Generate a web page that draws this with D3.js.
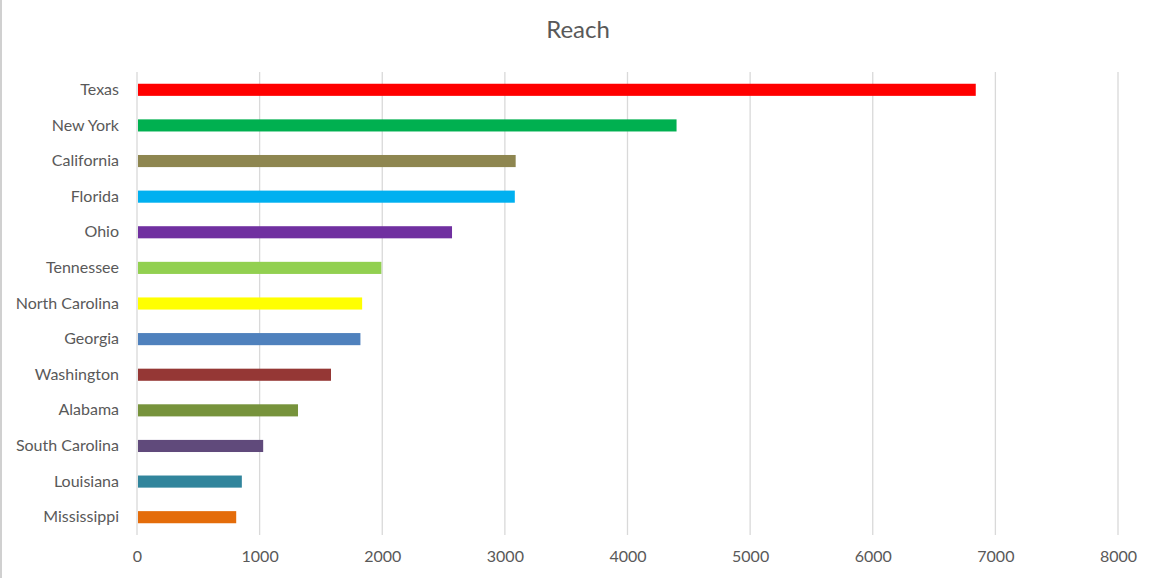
<!DOCTYPE html>
<html>
<head>
<meta charset="utf-8">
<script src="https://cdn.jsdelivr.net/npm/d3@7"></script>
<style>
  body { margin: 0; background: #fff; }
  text { font-family: Lato, "Open Sans", sans-serif; fill: #595959; }
</style>
</head>
<body>
<svg id="drawspace" width="1152" height="578"></svg>
<script>
// data
let states = ["Texas", "New York", "California", "Florida", "Ohio", "Tennessee",
  "North Carolina", "Georgia", "Washington", "Alabama", "South Carolina", "Louisiana", "Mississippi"];
let reach = [6840, 4400, 3088, 3081, 2569, 1993, 1836, 1822, 1582, 1313, 1029, 855, 809];
let colors = ["#ff0000", "#00b050", "#8e8650", "#00b0f0", "#7030a0", "#92d050",
  "#ffff00", "#4f81bd", "#953735", "#77933c", "#604a7b", "#31859c", "#e46c0a"];
let xTicks = [0, 1000, 2000, 3000, 4000, 5000, 6000, 7000, 8000];

let svg = d3.select("#drawspace");
let pLeft = 137, pRight = 1118, pTop = 72, pBottom = 535;

// edge of the chart area on the left
svg.append("line").attr("x1", 1).attr("x2", 1).attr("y1", 0).attr("y2", 578)
  .attr("stroke", "#d0d0d0").attr("stroke-width", 2);

svg.append("text").attr("x", 578).attr("y", 38).attr("text-anchor", "middle")
  .style("font-size", "24px").text("Reach");

let xscale = d3.scaleLinear().domain([0, 8000]).range([pLeft, pRight]);
let yscale = d3.scaleBand().domain(states).range([pTop, pBottom]).paddingInner(0.66).paddingOuter(0.33);

// gridlines
svg.append("g").selectAll("line").data(xTicks).enter().append("line")
  .attr("x1", d => xscale(d)).attr("x2", d => xscale(d))
  .attr("y1", pTop).attr("y2", pBottom)
  .attr("stroke", "#d9d9d9").attr("stroke-width", 1.3);

// x axis labels
let xAxis = svg.append("g").attr("transform", "translate(0," + pBottom + ")")
  .call(d3.axisBottom(xscale).tickValues(xTicks).tickSize(0).tickPadding(16).tickFormat(d3.format("d")));
xAxis.select(".domain").remove();
xAxis.selectAll("text").style("font-size", "16px").attr("fill", "#595959");

// y axis labels
let yAxis = svg.append("g").attr("transform", "translate(" + pLeft + ",0)")
  .call(d3.axisLeft(yscale).tickSize(0).tickPadding(18));
yAxis.select(".domain").remove();
yAxis.selectAll("text").style("font-size", "16px").attr("fill", "#595959");

// bars
svg.append("g").selectAll("rect").data(states).enter().append("rect")
  .attr("x", xscale(0) + 1)
  .attr("y", d => yscale(d))
  .attr("height", yscale.bandwidth())
  .attr("width", (d, i) => xscale(reach[i]) - xscale(0) - 1)
  .attr("fill", (d, i) => colors[i]);
</script>
</body>
</html>
